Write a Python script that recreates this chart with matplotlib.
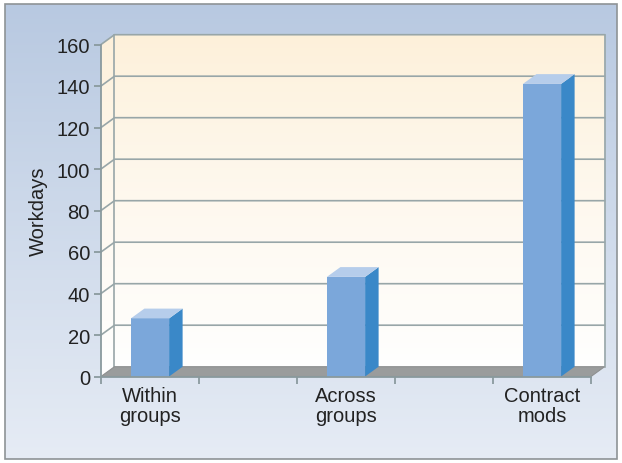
import numpy as np
import matplotlib
matplotlib.use("Agg")
import matplotlib.pyplot as plt
from matplotlib.patches import Polygon, Rectangle

plt.rcParams['font.family'] = ['Liberation Sans Narrow', 'Liberation Sans', 'DejaVu Sans']

categories = ['Within\ngroups', 'Across\ngroups', 'Contract\nmods']
workdays = [28, 48, 141]
cat_pos = [0.5, 2.5, 4.5]
y_ticks = [0, 20, 40, 60, 80, 100, 120, 140, 160]
x_ticks = [0, 1, 2, 3, 4, 5]

W, H = 622, 464
fig = plt.figure(figsize=(W / 100, H / 100), dpi=100)

# panel background with a soft vertical gradient and a thin border
bg = fig.add_axes([0, 0, 1, 1], zorder=-10)
bg.set_xlim(0, W)
bg.set_ylim(H, 0)
bg.axis('off')
grad = np.linspace(0, 1, 256)[:, None]
top_c = np.array([0.722, 0.788, 0.882])
bot_c = np.array([0.902, 0.925, 0.960])
bg.imshow(top_c + (bot_c - top_c) * grad[..., None] * np.ones((1, 2, 1)),
          extent=[5, 617, 460, 5], aspect='auto', interpolation='bilinear')
bg.add_patch(Rectangle((5, 5), 612, 455, fill=False, ec='#8e9396', lw=1.2))

# plotting area
ax_l, ax_b, ax_w, ax_h = 101, 464 - 377.5, 490, 332
ax = fig.add_axes([ax_l / W, ax_b / H, ax_w / W, ax_h / H])
ax.set_facecolor('none')
ax.set_xlim(0, 5)
ax.set_ylim(0, 160)

# depth of walls and bars, given in pixels and turned into data units
depth_x_px, depth_y_px = 13.5, 9.8
DX = depth_x_px * 5 / ax_w
DY = depth_y_px * 160 / ax_h

grid_c = '#98a6a8'
axis_c = '#8a9a9e'

# side wall and back wall, filled with a cream-to-white gradient
wall = Polygon([(0, 0), (0, 160), (DX, 160 + DY), (5 + DX, 160 + DY),
                (5 + DX, DY), (DX, DY)], closed=True, fc='none', ec='none',
               transform=ax.transData, clip_on=False)
ax.add_patch(wall)
cream = np.array([0.992, 0.941, 0.851])
white = np.array([1.0, 1.0, 1.0])
g = np.linspace(0, 1, 256) ** 0.8
wall_img = cream + (white - cream) * g[:, None, None] * np.ones((1, 2, 1))
im = ax.imshow(wall_img, extent=[0, 5 + DX, 0, 160 + DY], origin='upper',
               aspect='auto', interpolation='bilinear', zorder=0)
im.set_clip_box(fig.bbox)
im.set_clip_path(wall)
ax.set_xlim(0, 5)
ax.set_ylim(0, 160)

# gridlines running across the side wall and the back wall
for yv in y_ticks[1:]:
    ax.plot([0, DX, 5 + DX], [yv, yv + DY, yv + DY], color=grid_c, lw=1.2,
            zorder=1, clip_on=False, solid_joinstyle='miter')
ax.plot([DX, DX], [DY, 160 + DY], color=grid_c, lw=1.2, zorder=1, clip_on=False)
ax.plot([5 + DX, 5 + DX], [DY, 160 + DY], color=grid_c, lw=1.2, zorder=1, clip_on=False)

# floor
ax.add_patch(Polygon([(0, 0), (5, 0), (5 + DX, DY), (DX, DY)], closed=True,
                     fc='#9a9c9c', ec='#8e9090', lw=0.8, zorder=2, clip_on=False))

# bars: front face via bar(), side and top faces for the depth effect
bw = 0.39
front_c = '#7ba7da'
side_c = '#3a88c8'
top_face_c = '#b6cdeb'
ax.bar(cat_pos, workdays, width=bw, color=front_c, zorder=3, clip_on=False)
for xc, v in zip(cat_pos, workdays):
    xr = xc + bw / 2
    xl = xc - bw / 2
    ax.add_patch(Polygon([(xr, 0), (xr + DX, DY), (xr + DX, v + DY), (xr, v)],
                         closed=True, fc=side_c, ec='none', zorder=3, clip_on=False))
    ax.add_patch(Polygon([(xl, v), (xr, v), (xr + DX, v + DY), (xl + DX, v + DY)],
                         closed=True, fc=top_face_c, ec='none', zorder=3, clip_on=False))

# axes
for side in ['top', 'right']:
    ax.spines[side].set_visible(False)
for side in ['left', 'bottom']:
    ax.spines[side].set_color(axis_c)
    ax.spines[side].set_linewidth(1.3)
    ax.spines[side].set_zorder(4)

ax.set_yticks(y_ticks)
ax.set_yticklabels([str(t) for t in y_ticks])
ax.set_xticks(x_ticks)
ax.set_xticklabels([''] * len(x_ticks))
ax.set_xticks(cat_pos, minor=True)
ax.set_xticklabels(categories, minor=True)
ax.tick_params(axis='both', which='major', direction='out', length=5,
               width=1.3, color=axis_c, labelsize=14.5, labelcolor='#222222', pad=3)
ax.tick_params(axis='x', which='minor', length=0, labelsize=14.5,
               labelcolor='#222222', pad=7)
for lab in ax.get_xticklabels(minor=True):
    lab.set_linespacing(1.05)

ax.set_ylabel('Workdays', fontsize=14.5, color='#222222', labelpad=6)

fig.savefig('out.png', dpi=100)
